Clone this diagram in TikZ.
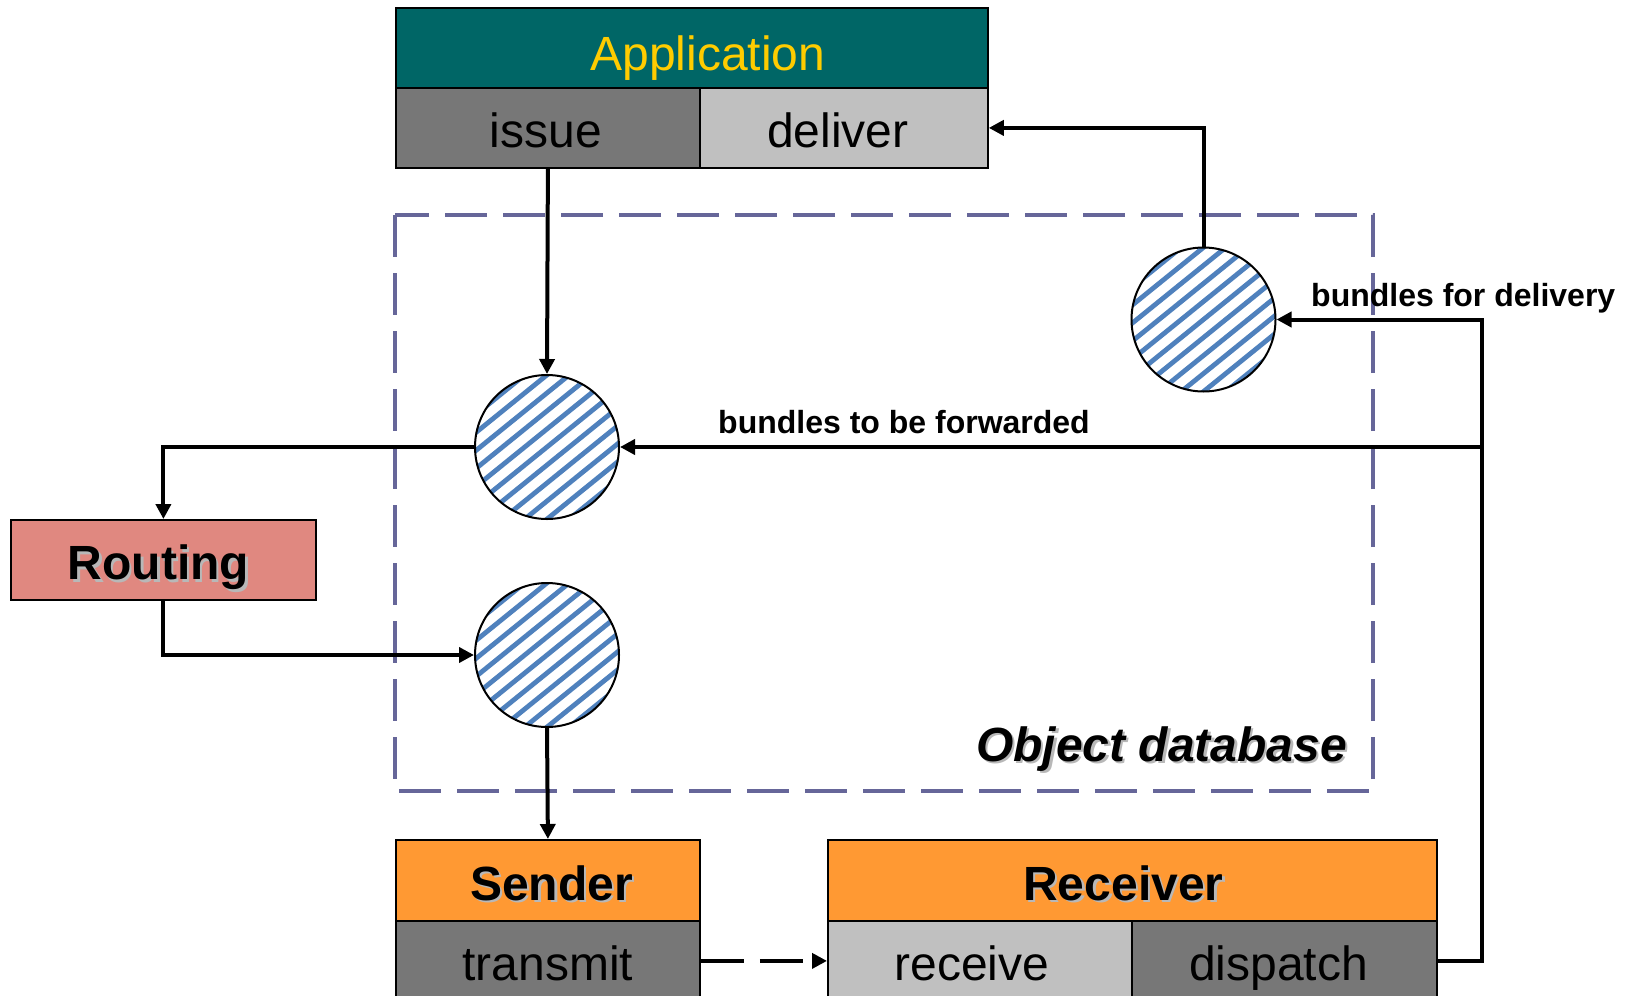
\documentclass[tikz,border=0pt]{standalone}
\usepackage{fontspec}
\setmainfont{Liberation Sans}
\usetikzlibrary{arrows.meta,calc}

\definecolor{appteal}{RGB}{0,102,102}
\definecolor{appyellow}{RGB}{255,204,0}
\definecolor{darkcell}{RGB}{119,119,119}
\definecolor{lightcell}{RGB}{192,192,192}
\definecolor{routingred}{RGB}{224,136,128}
\definecolor{orangehead}{RGB}{255,153,51}
\definecolor{dbline}{RGB}{102,102,153}
\definecolor{hatchblue}{RGB}{79,129,189}

% text with a soft grey drop shadow
\newcommand\shadowed[1]{\leavevmode\rlap{\kern2.5pt\raisebox{-2.5pt}{\textcolor{black!28}{#1}}}#1}

\tikzset{
  cell/.style={draw=black, line width=1.8pt, inner sep=0pt, anchor=north west,
               minimum height=80pt, text height=40pt, text depth=0pt,
               font=\fontsize{48}{56}\selectfont},
  headcell/.style={cell, font=\fontsize{48}{56}\selectfont\bfseries},
  store/.style={circle, draw=black, line width=2pt, minimum size=144pt, inner sep=0pt},
  conn/.style={line width=4pt, -{Triangle[length=15pt,width=15pt]}},
  dbbox/.style={draw=dbline, line width=4.5pt, dash pattern=on 42pt off 16pt},
  flowlabel/.style={font=\fontsize{32}{38}\selectfont\bfseries, inner sep=0pt},
  hatch/.style={draw=hatchblue, line width=4.8pt},
}

\begin{document}
\begin{tikzpicture}[x=1pt,y=1pt]
  \useasboundingbox (0,0) rectangle (1631,-996);
  \clip (0,0) rectangle (1631,-996);

  % object database frame
  \draw[dbbox] (395,-215) rectangle (1373,-791);
  \node[font=\fontsize{48}{56}\selectfont\bfseries\itshape, anchor=base east, inner sep=0pt]
    (dblabel) at (1347,-761) {\shadowed{Object database}};

  % application block
  \node[cell, fill=appteal, text=appyellow, minimum width=592pt, text height=46pt]
    (app) at (395,-7) {\hspace*{32pt}Application};
  \node[cell, fill=darkcell, minimum width=304pt] (issue) at (395,-87) {\hspace*{-4pt}issue};
  \node[cell, fill=lightcell, minimum width=288pt] (deliver) at (699,-87) {\hspace*{-12pt}deliver};

  % routing
  \node[headcell, fill=routingred, minimum width=305pt] (routing) at (10,-519) {\hspace*{-10pt}\shadowed{Routing}};

  % sender
  \node[headcell, fill=orangehead, minimum width=304pt, minimum height=81pt] (sender) at (395,-839) {\hspace*{7pt}\shadowed{Sender}};
  \node[cell, fill=darkcell, minimum width=304pt] (transmit) at (395,-920) {transmit};

  % receiver
  \node[headcell, fill=orangehead, minimum width=609pt, minimum height=81pt] (receiver) at (827,-839) {\hspace*{-18pt}\shadowed{Receiver}};
  \node[cell, fill=lightcell, minimum width=304pt] (receive) at (827,-920) {\hspace*{-16pt}receive};
  \node[cell, fill=darkcell, minimum width=305pt] (dispatch) at (1131,-920) {\hspace*{-12pt}dispatch};

  % hatched object stores
  \coordinate (pA) at (547,-447);
  \coordinate (pB) at (547,-655);
  \coordinate (pC) at (1203.5,-319.5);
  \foreach \p in {pA,pB,pC} {
    \begin{scope}[shift={(\p)}]
      \fill[white] (0,0) circle (72pt);
      \clip (0,0) circle (72pt);
      \foreach \s in {-84,-70,...,84} {
        \draw[hatch] ({-\s*sin(39)-110*cos(39)},{\s*cos(39)-110*sin(39)})
                  -- ({-\s*sin(39)+110*cos(39)},{\s*cos(39)+110*sin(39)});
      }
    \end{scope}
  }
  \node[store] (cA) at (pA) {};
  \node[store] (cB) at (pB) {};
  \node[store] (cC) at (pC) {};

  % flows
  \coordinate (rail) at (1482,-447);
  \draw[conn] (issue.south) -- (cA.north);
  \draw[conn] (cC.north) |- (deliver.east);
  \draw[conn] (dispatch.east) -| (rail) |- (cC.east);
  \draw[conn] (rail) -- (cA.east);
  \draw[conn] (cA.west) -| (routing.north);
  \draw[conn] (routing.south) |- (cB.west);
  \draw[conn] (cB.south) -- (sender.north);
  \draw[conn, dash pattern=on 43pt off 16pt] (transmit.east) -- (receive.west);

  % flow labels
  \node[flowlabel] (fwd) at (904,-422) {bundles to be forwarded};
  \node[flowlabel, anchor=west] (dlv) at (1311,-298) {bundles for delivery};
\end{tikzpicture}
\end{document}
